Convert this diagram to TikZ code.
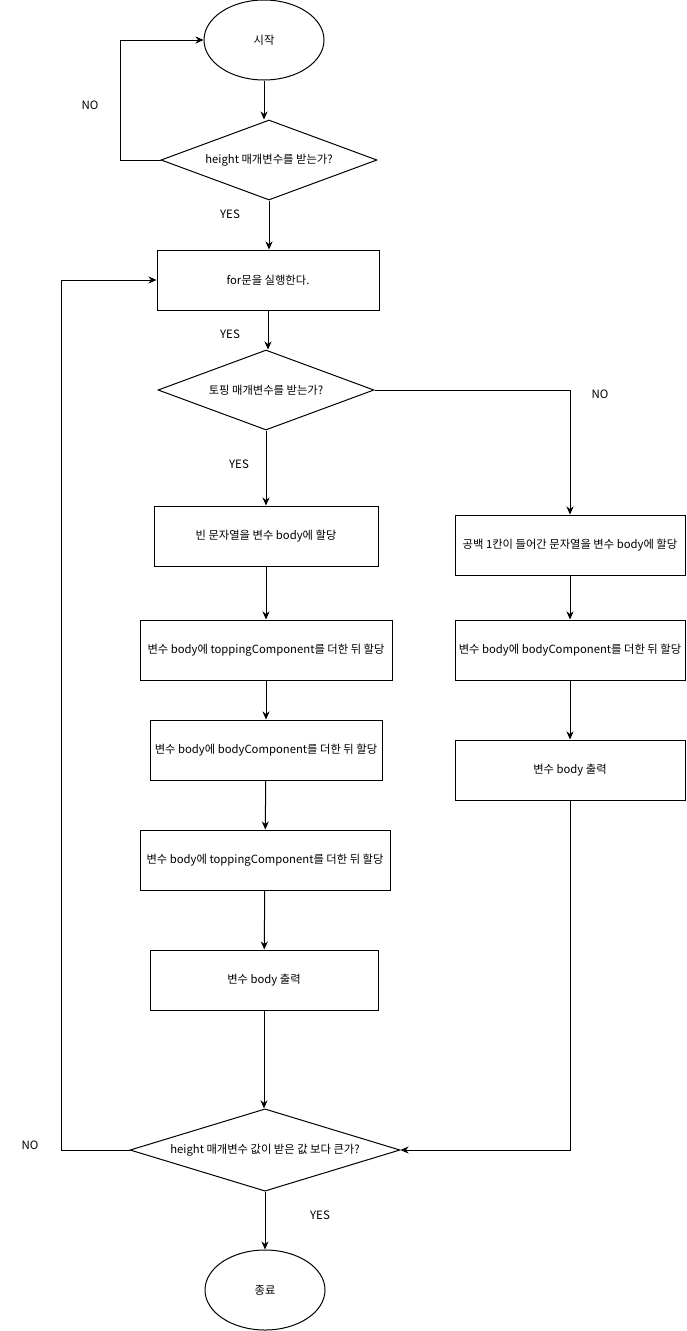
\documentclass[tikz,border=0pt]{standalone}
\usepackage{fontspec}
\setmainfont{Noto Sans CJK KR}
\usetikzlibrary{shapes.geometric,arrows.meta,positioning}
\tikzset{
  base/.style={draw=black,line width=1pt,font=\fontsize{11.3}{13}\selectfont,inner sep=0pt,align=center},
  term/.style={base,ellipse,minimum width=120pt,minimum height=80pt},
  dec/.style={base,diamond,aspect=2.7},
  proc/.style={base,rectangle,minimum height=60pt},
  lab/.style={font=\fontsize{11.5}{13}\selectfont},
  conn/.style={line width=1pt,-{Stealth[length=8pt,width=7pt,inset=2.5pt]}},
  line/.style={line width=1pt}
}
\begin{document}
\begin{tikzpicture}[x=1pt,y=-1pt]
\useasboundingbox (0,0) rectangle (687,1331);
% nodes
\node[term] (start) at (264,40) {시작};
\node[dec,minimum width=216pt,minimum height=80pt] (d1) at (269,160) {height 매개변수를 받는가?};
\node[proc,minimum width=222pt] (for) at (268,280) {for문을 실행한다.};
\node[dec,minimum width=216pt,minimum height=80pt] (d2) at (266,390) {토핑 매개변수를 받는가?};
\node[proc,minimum width=224pt] (l1) at (266,536) {빈 문자열을 변수 body에 할당};
\node[proc,minimum width=252pt] (l2) at (266,650) {변수 body에 toppingComponent를 더한 뒤 할당};
\node[proc,minimum width=232pt] (l3) at (266,750) {변수 body에 bodyComponent를 더한 뒤 할당};
\node[proc,minimum width=250pt] (l4) at (265,860) {변수 body에 toppingComponent를 더한 뒤 할당};
\node[proc,minimum width=228pt] (l5) at (264,980) {변수 body 출력};
\node[proc,minimum width=230pt] (r1) at (570,545) {공백 1칸이 들어간 문자열을 변수 body에 할당};
\node[proc,minimum width=230pt] (r2) at (570,650) {변수 body에 bodyComponent를 더한 뒤 할당};
\node[proc,minimum width=230pt] (r3) at (570,770) {변수 body 출력};
\node[dec,minimum width=270pt,minimum height=80pt] (d3) at (265,1150) {height 매개변수 값이 받은 값 보다 큰가?};
\node[term] (end) at (265,1290) {종료};
% labels
\node[lab] (no1) at (90,105) {NO};
\node[lab] (yes1) at (230,214) {YES};
\node[lab] (yes2) at (230,334) {YES};
\node[lab] (yes3) at (239,464) {YES};
\node[lab] (no2) at (600,394) {NO};
\node[lab] (no3) at (30,1145) {NO};
\node[lab] (yes4) at (320,1215) {YES};
% corner coordinates
\coordinate (c1a) at (120,160);
\coordinate (c1b) at (120,40);
\coordinate (c2a) at (570,390);
\coordinate (c3a) at (61,1150);
\coordinate (c3b) at (61,280);
\coordinate (c4a) at (570,1150);
% connectors
\draw[conn] (start) -- (start.south |- d1.north);
\draw[conn] (d1.west) -- (c1a) -- (c1b) -- (start.west);
\draw[conn] (d1.south) -- (d1.south |- for.north);
\draw[conn] (for.south) -- (for.south |- d2.north);
\draw[conn] (d2.south) -- (d2.south |- l1.north);
\draw[conn] (d2.east) -- (c2a) -- (r1.north);
\draw[conn] (l1) -- (l2);
\draw[conn] (l2) -- (l3);
\draw[conn] (l3) -- (l4);
\draw[conn] (l4) -- (l5);
\draw[conn] (l5.south) -- (l5.south |- d3.north);
\draw[conn] (r1) -- (r2);
\draw[conn] (r2) -- (r3);
\draw[conn] (r3.south) -- (c4a) -- (d3.east);
\draw[conn] (d3.west) -- (c3a) -- (c3b) -- (for.west);
\draw[conn] (d3.south) -- (end.north);
\end{tikzpicture}
\end{document}
